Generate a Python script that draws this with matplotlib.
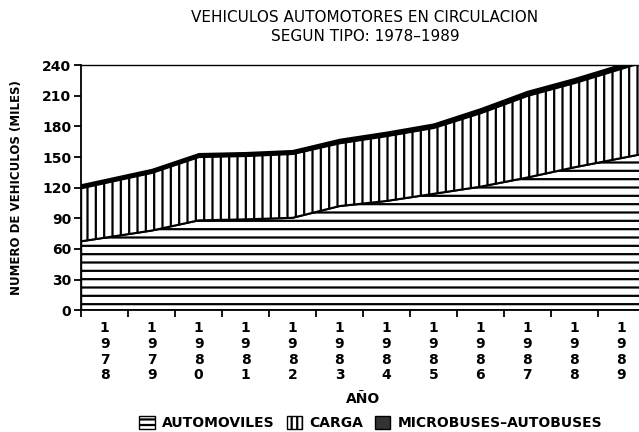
import matplotlib.pyplot as plt
from matplotlib.patches import Patch
import numpy as np

years = ["1978", "1979", "1980", "1981", "1982", "1983",
         "1984", "1985", "1986", "1987", "1988", "1989"]
automoviles = [71, 78, 88, 89, 90.5, 102, 107, 114, 121, 130, 140, 149]
carga = [54, 57, 62.5, 62.5, 63, 62, 64, 65, 72.5, 80.5, 83, 88]
microbuses = [3, 3, 3, 3, 3, 3.5, 3.5, 3.5, 4, 4, 4, 4]
series_names = ["AUTOMOVILES", "CARGA", "MICROBUSES\u2013AUTOBUSES"]


def to_edges(v):
    # carry the first/last slope out to the category borders
    v = np.asarray(v, float)
    return np.concatenate([[v[0] - (v[1] - v[0]) / 2], v, [v[-1] + (v[-1] - v[-2]) / 2]])


plt.rcParams["font.family"] = "DejaVu Sans"
plt.rcParams["hatch.linewidth"] = 1.6

fig = plt.figure(figsize=(6.39, 4.32), dpi=100)
ax = fig.add_axes([0.127, 0.282, 0.882, 0.567])

n = len(years)
x = np.arange(n)
xe = np.concatenate([[-0.5], x, [n - 0.5]])
a = to_edges(automoviles)
c = to_edges(carga)
m = to_edges(microbuses)

ax.fill_between(xe, 0, a, facecolor="white", edgecolor="black", hatch="--", linewidth=1.5)
ax.fill_between(xe, a, a + c, facecolor="white", edgecolor="black", hatch="||", linewidth=1.5)
ax.fill_between(xe, a + c, a + c + m, facecolor="black", edgecolor="black", linewidth=1.5)

ax.set_xlim(-0.5, n - 0.5)
ax.set_ylim(0, 240)
ax.set_yticks(np.arange(0, 241, 30))
ax.set_xticks(x)
ax.set_xticklabels(["\n".join(y) for y in years], fontsize=10, fontweight="bold",
                   linespacing=1.15)
ax.set_xticks(np.arange(n) - 0.5, minor=True)
ax.tick_params(axis="x", which="major", length=0, pad=8)
ax.tick_params(axis="x", which="minor", length=5, width=1.3, direction="out")
ax.tick_params(axis="y", length=5, width=1.3, labelsize=10, pad=2)
for lab in ax.get_yticklabels():
    lab.set_fontweight("bold")

ax.spines["right"].set_visible(False)
ax.spines["left"].set_linewidth(1.3)
ax.spines["bottom"].set_linewidth(1.3)
ax.spines["top"].set_linewidth(1.0)

ax.set_xlabel("AÑO", fontsize=10, fontweight="bold", labelpad=7)
ax.set_ylabel("NUMERO DE VEHICULOS (MILES)", fontsize=8.5, fontweight="bold", labelpad=14)

fig.text(0.571, 1 - 27 / 432, "VEHICULOS AUTOMOTORES EN CIRCULACION\nSEGUN TIPO: 1978\u20131989",
         ha="center", va="center", fontsize=11, linespacing=1.3)

handles = [
    Patch(facecolor="white", edgecolor="black", hatch="---"),
    Patch(facecolor="white", edgecolor="black", hatch="|||"),
    Patch(facecolor="#333333", edgecolor="black"),
]
fig.legend(handles, series_names, loc="lower center", bbox_to_anchor=(0.58, -0.025),
           ncol=3, frameon=False, handlelength=1.1, handleheight=1.0,
           handletextpad=0.5, columnspacing=0.9, prop={"size": 10, "weight": "bold"})

fig.savefig("out.png", dpi=100)
